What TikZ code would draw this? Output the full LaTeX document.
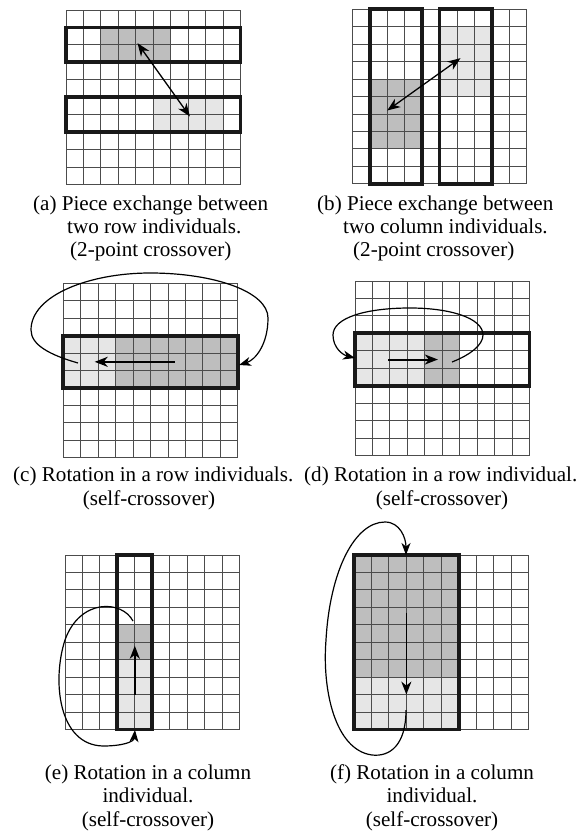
\documentclass[tikz,border=0pt]{standalone}
\usepackage{fontspec}
\setmainfont{Liberation Serif}
\usetikzlibrary{arrows.meta}
\definecolor{darkcell}{HTML}{BEBEBE}
\definecolor{lightcell}{HTML}{E6E6E6}

\begin{document}
\begin{tikzpicture}[
  x=1pt, y=-1pt,
  font=\fontsize{21.1}{23.5}\selectfont,
  panel/.style={shift={#1}, x=17.45pt, y=-17.45pt},
  gridline/.style={line width=1pt, black!70},
  indiv/.style={line width=3.8pt, black!90},
  darkpiece/.style={fill=darkcell},
  lightpiece/.style={fill=lightcell},
  exchange/.style={{Stealth[length=13pt,width=10pt,inset=4pt]}-{Stealth[length=13pt,width=10pt,inset=4pt]}, line width=1.3pt},
  shiftarrow/.style={-{Stealth[length=13pt,width=10pt,inset=4pt]}, line width=2pt},
  rotpath/.style={-{Stealth[length=12pt,width=9pt,inset=3.5pt]}, line width=1.2pt},
  subcap/.style={anchor=base west, inner sep=0pt},
  subcapc/.style={anchor=base, inner sep=0pt},
  cellgrid/.pic={\foreach \k in {0,...,10} {\draw[gridline] (\k,0) -- (\k,10) (0,\k) -- (10,\k);}},
]
\useasboundingbox (0,0) rectangle (581,833);

% ---------------- (a) two row individuals
\begin{scope}[panel={(66,10)}]
  \fill[darkpiece] (2,1) rectangle (6,3);
  \fill[lightpiece] (5,5) rectangle (9,7);
  \pic {cellgrid};
  \draw[indiv] (0,1) rectangle (10,3);
  \draw[indiv] (0,5) rectangle (10,7);
  \coordinate (a-from) at (4.1,1.9);
  \coordinate (a-to) at (7.1,6.1);
\end{scope}
\draw[exchange] (a-from) -- (a-to);
\node[subcap] (capa1) at (33,210) {(a) Piece exchange between};
\node[subcap] (capa2) at (67,233) {two row individuals.};
\node[subcap] (capa3) at (70,256) {(2-point crossover)};

% ---------------- (b) two column individuals
\begin{scope}[panel={(352.3,9.3)}]
  \fill[darkpiece] (1,4) rectangle (4,8);
  \fill[lightpiece] (5,1) rectangle (8,5);
  \pic {cellgrid};
  \draw[indiv] (1,0) rectangle (4,10);
  \draw[indiv] (5,0) rectangle (8,10);
  \coordinate (b-from) at (2.0,5.8);
  \coordinate (b-to) at (6.2,2.8);
\end{scope}
\draw[exchange] (b-from) -- (b-to);
\node[subcap] (capb1) at (317,210) {(b) Piece exchange between};
\node[subcap] (capb2) at (343,233) {two column individuals.};
\node[subcap] (capb3) at (353,256) {(2-point crossover)};

% ---------------- (c) rotation, row
\begin{scope}[panel={(63.3,283.3)}]
  \fill[lightpiece] (0,3) rectangle (3,6);
  \fill[darkpiece] (3,3) rectangle (10,6);
  \pic {cellgrid};
  \draw[indiv] (0,3) rectangle (10,6);
  \coordinate (c-from) at (6.4,4.5);
  \coordinate (c-to) at (1.8,4.5);
\end{scope}
\draw[shiftarrow] (c-from) -- (c-to);
\coordinate (c-out) at (78,363);
\coordinate (c-in) at (239,365);
\draw[rotpath] (c-out) .. controls (50,355) and (31,345) .. (31,330)
  .. controls (31,295) and (90,273) .. (150,273)
  .. controls (215,273) and (268,292) .. (268,318)
  .. controls (268,345) and (255,360) .. (c-in);
\node[subcap] (capc1) at (13,481.5) {(c) Rotation in a row individuals.};
\node[subcapc] (capc2) at (149,505) {(self-crossover)};

% ---------------- (d) rotation, row
\begin{scope}[panel={(355,281)}]
  \fill[lightpiece] (0,3) rectangle (4,6);
  \fill[darkpiece] (4,3) rectangle (6,6);
  \pic {cellgrid};
  \draw[indiv] (0,3) rectangle (10,6);
  \coordinate (d-from) at (1.9,4.5);
  \coordinate (d-to) at (4.75,4.5);
\end{scope}
\draw[shiftarrow] (d-from) -- (d-to);
\coordinate (d-out) at (452,362);
\coordinate (d-in) at (355,358);
\draw[rotpath] (d-out) .. controls (470,355) and (483,345) .. (483,335)
  .. controls (483,318) and (450,308) .. (410,308)
  .. controls (365,308) and (333,318) .. (333,335)
  .. controls (333,348) and (343,355) .. (d-in);
\node[subcap] (capd1) at (304,481.5) {(d) Rotation in a row individual.};
\node[subcapc] (capd2) at (442,505) {(self-crossover)};

% ---------------- (e) rotation, column
\begin{scope}[panel={(65,555)}]
  \fill[darkpiece] (3,4) rectangle (5,6);
  \fill[lightpiece] (3,6) rectangle (5,10);
  \pic {cellgrid};
  \draw[indiv] (3,0) rectangle (5,10);
  \coordinate (e-from) at (4,8);
  \coordinate (e-to) at (4,5.2);
\end{scope}
\draw[shiftarrow, line width=1.5pt] (e-from) -- (e-to);
\coordinate (e-out) at (133,621);
\coordinate (e-in) at (135,730);
\draw[rotpath] (e-out) .. controls (122,600) and (80,598) .. (65,640)
  .. controls (52,680) and (58,745) .. (103,746)
  .. controls (122,746) and (134,742) .. (e-in);
\node[subcapc] (cape1) at (148,779) {(e) Rotation in a column};
\node[subcapc] (cape2) at (148,802.5) {individual.};
\node[subcapc] (cape3) at (148,826) {(self-crossover)};

% ---------------- (f) rotation, column
\begin{scope}[panel={(354,555)}]
  \fill[darkpiece] (0,0) rectangle (6,7);
  \fill[lightpiece] (0,7) rectangle (6,10);
  \pic {cellgrid};
  \draw[indiv] (0,0) rectangle (6,10);
  \coordinate (f-from) at (3,3.3);
  \coordinate (f-to) at (3,8);
\end{scope}
\draw[shiftarrow, line width=1.5pt] (f-from) -- (f-to);
\coordinate (f-out) at (406,710);
\coordinate (f-in) at (406,555);
\draw[rotpath] (f-out) .. controls (406,745) and (390,757) .. (372,755)
  .. controls (335,750) and (322,690) .. (326,640)
  .. controls (330,570) and (355,522) .. (385,522)
  .. controls (400,522) and (406,538) .. (f-in);
\node[subcapc] (capf1) at (432,779) {(f) Rotation in a column};
\node[subcapc] (capf2) at (432,802.5) {individual.};
\node[subcapc] (capf3) at (432,826) {(self-crossover)};

\end{tikzpicture}
\end{document}
